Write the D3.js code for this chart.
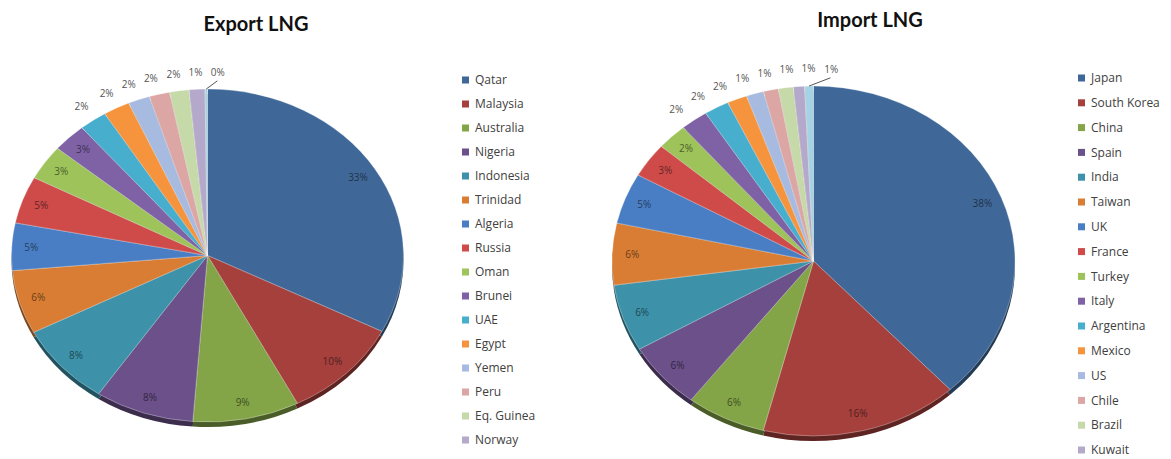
<!DOCTYPE html>
<html>
<head>
<meta charset="utf-8">
<script src="https://cdn.jsdelivr.net/npm/d3@7"></script>
<style>
body { margin: 0; background: #fff; }
svg { display: block; font-family: "Open Sans", sans-serif; }
</style>
</head>
<body>
<svg id="chart" width="1171" height="459"></svg>
<script>
// export shares (%)
var exportCountries = ["Qatar", "Malaysia", "Australia", "Nigeria", "Indonesia", "Trinidad", "Algeria", "Russia",
  "Oman", "Brunei", "UAE", "Egypt", "Yemen", "Peru", "Eq. Guinea", "Norway", "Others"];
var exportValues = [32.6, 9.9, 8.8, 8.2, 8.0, 6.2, 4.6, 4.6, 3.4, 2.8, 2.3, 2.2, 1.8, 1.7, 1.6, 1.3, 0.2];

// import shares (%)
var importCountries = ["Japan", "South Korea", "China", "Spain", "India", "Taiwan", "UK", "France", "Turkey",
  "Italy", "Argentina", "Mexico", "US", "Chile", "Brazil", "Kuwait", "Others"];
var importValues = [38.2, 15.9, 6.4, 6.2, 6.2, 5.7, 4.7, 3.2, 2.45, 2.2, 2.0, 1.6, 1.4, 1.2, 1.2, 0.9, 0.7];

// excel 2007 style colours
var palette = ["#3f6898", "#a5403d", "#83a447", "#6b5089", "#3d92aa", "#d97d34",
  "#4a7ec4", "#cf4b4a", "#9dc35a", "#7f62a6", "#48aece", "#f6943e",
  "#a7badf", "#dca6a5", "#c6d9a9", "#b5a9cb", "#a6d3e3"];

var svg = d3.select("#chart");
var H = 459;

function drawPie(names, values, title, g) {
  var color = d3.scaleOrdinal().domain(names).range(palette);
  var R = 100;
  var total = d3.sum(values);

  var data = names.map(function(n, i) { return {name: n, value: values[i]}; });
  var pie = d3.pie().sort(null).value(function(d) { return d.value; });
  var arcs = pie(data);
  var arc = d3.arc().innerRadius(0).outerRadius(R);

  function pos(a, k) {
    return [g.cx + g.rx * k * Math.sin(a), g.cy - g.ry * k * Math.cos(a)];
  }

  // title
  svg.append("text")
      .attr("x", g.titleX)
      .attr("y", g.titleY)
      .attr("text-anchor", "middle")
      .style("font-family", "Lato, 'Open Sans', sans-serif")
      .style("font-weight", "bold")
      .style("font-size", "20px")
      .style("fill", "#111")
      .text(title);

  // side of the 3d pie
  svg.append("g")
      .attr("transform", "translate(" + g.cx + "," + (g.cy + g.depth) + ") scale(" + g.rx / R + "," + g.ry / R + ")")
    .selectAll("path")
      .data(arcs)
    .enter().append("path")
      .attr("d", arc)
      .attr("fill", function(d) { return d3.color(color(d.data.name)).darker(1.6); });

  // top face
  svg.append("g")
      .attr("transform", "translate(" + g.cx + "," + g.cy + ") scale(" + g.rx / R + "," + g.ry / R + ")")
    .selectAll("path")
      .data(arcs)
    .enter().append("path")
      .attr("d", arc)
      .attr("fill", function(d) { return color(d.data.name); })
      .attr("stroke", "#fff")
      .attr("stroke-opacity", 0.45)
      .attr("stroke-width", 0.7)
      .attr("vector-effect", "non-scaling-stroke");

  function pct(d) { return Math.round(d.value / total * 100) + "%"; }

  // labels inside the bigger slices
  var inner = arcs.filter(function(d) { return d.value >= 2.4; });
  svg.selectAll(".in-" + g.id)
      .data(inner)
    .enter().append("text")
      .attr("class", "in-" + g.id)
      .attr("x", function(d) { return pos((d.startAngle + d.endAngle) / 2, 0.9)[0]; })
      .attr("y", function(d) { return pos((d.startAngle + d.endAngle) / 2, 0.9)[1]; })
      .attr("dy", "0.35em")
      .attr("text-anchor", "middle")
      .style("font-size", "10px")
      .style("fill", function(d) { return d3.color(color(d.data.name)).darker(2); })
      .text(pct);

  // small slices: labels outside, spread apart so they don't collide
  var kOut = 1.1;
  var outer = arcs.filter(function(d) { return d.value < 2.4; });
  outer.forEach(function(d) { d.mid = (d.startAngle + d.endAngle) / 2; d.la = d.mid; });
  outer.sort(function(a, b) { return a.mid - b.mid; });
  for (var it = 0; it < 3000; it++) {
    var moved = false;
    for (var i = 1; i < outer.length; i++) {
      var p = pos(outer[i - 1].la, kOut), q = pos(outer[i].la, kOut);
      if (Math.abs(p[0] - q[0]) < 22 && Math.abs(p[1] - q[1]) < 13) {
        outer[i - 1].la -= 0.002;
        outer[i].la += 0.002;
        moved = true;
      }
    }
    if (!moved) break;
  }

  outer.forEach(function(d) {
    var t = pos(d.la, kOut);
    if (Math.abs(d.la - d.mid) > 0.05) {
      var s = pos(d.mid, 1.0), e = pos(d.la, 1.05);
      svg.append("path")
          .attr("d", "M" + s[0] + "," + s[1] + "L" + e[0] + "," + e[1])
          .attr("fill", "none")
          .attr("stroke", "#555")
          .attr("stroke-width", 1);
    }
    svg.append("text")
        .attr("x", t[0])
        .attr("y", t[1])
        .attr("dy", "0.35em")
        .attr("text-anchor", "middle")
        .style("font-size", "10px")
        .style("fill", "#555")
        .text(pct(d));
  });

  // legend (entries that run past the bottom edge are left out, as in the original)
  var shown = names.filter(function(d, i) { return g.legendY + i * g.legendStep + 6 <= H; });
  var legend = svg.selectAll(".legend-" + g.id)
      .data(shown)
    .enter().append("g")
      .attr("class", "legend-" + g.id)
      .attr("transform", function(d, i) { return "translate(" + g.legendX + "," + (g.legendY + i * g.legendStep) + ")"; });

  legend.append("rect")
      .attr("x", 0)
      .attr("y", -3.5)
      .attr("width", 7)
      .attr("height", 7)
      .style("fill", color);

  legend.append("text")
      .attr("x", 13)
      .attr("dy", "0.35em")
      .style("font-size", "12px")
      .style("fill", "#404040")
      .text(function(d) { return d; });
}

drawPie(exportCountries, exportValues, "Export LNG",
  {id: "ex", cx: 207.5, cy: 255.5, rx: 196, ry: 166.5, depth: 5, titleX: 256, titleY: 31,
   legendX: 462, legendY: 80, legendStep: 24});

drawPie(importCountries, importValues, "Import LNG",
  {id: "im", cx: 813.5, cy: 261, rx: 201.5, ry: 175, depth: 5, titleX: 870, titleY: 27,
   legendX: 1078, legendY: 78, legendStep: 24.8});
</script>
</body>
</html>
